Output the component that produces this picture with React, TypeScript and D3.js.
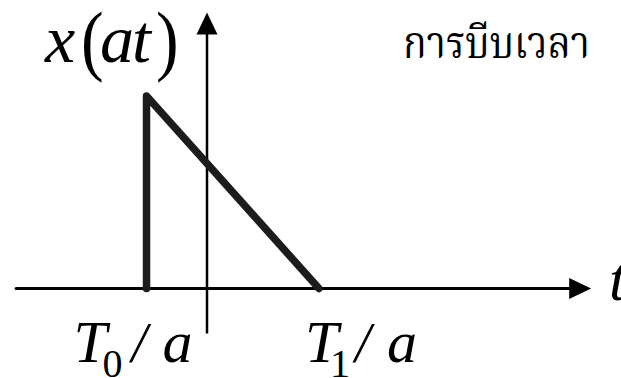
import React from "react";
import * as d3 from "d3";

// Signal x(at): time points (in units of T1/a) and amplitudes
const signalT = [-0.54, -0.54, 1];
const signalX = [0, 1, 0];
// Axis extents (data units)
const tAxis = [-1.705, 3.43];
const xAxis = [-0.234, 1.434];
// Tick labels
const tickTs = [-0.54, 1];
const tickMain = ["T", "T"];
const tickSub = ["0", "1"];
const titleText = "การบีบเวลา";

// label layout (pixel offsets relative to the tick position)
const tickLayout = [
  { dx: -73, sub: 29, slash: 58, a: 89 },
  { dx: -14, sub: 25, slash: 50, a: 82 },
];

const W = 621;
const H = 378;

export default function App() {
  const xs = d3.scaleLinear().domain([0, 1]).range([207, 319]);
  const ys = d3.scaleLinear().domain([0, 1]).range([288.5, 96]);

  const line = d3
    .line<number>()
    .x((_, i) => xs(signalT[i]))
    .y((d) => ys(d));

  const hx0 = xs(tAxis[0]);
  const hx1 = xs(tAxis[1]);
  const vy0 = ys(xAxis[0]);
  const vy1 = ys(xAxis[1]);
  const y0 = ys(0);
  const x0 = xs(0);
  const ah = 22; // arrow length
  const aw = 10.5; // arrow half-width

  const serif = "'Liberation Serif', 'Times New Roman', serif";

  return (
    <svg
      width={W}
      height={H}
      style={{ position: "absolute", left: 0, top: 0, background: "#fff" }}
    >
      <rect width={W} height={H} fill="#fff" />
      {/* horizontal axis */}
      <line x1={hx0} y1={y0} x2={hx1 - ah + 2} y2={y0} stroke="#000" strokeWidth={3} strokeLinecap="round" />
      <path d={`M${hx1},${y0} L${hx1 - ah},${y0 - aw} L${hx1 - ah},${y0 + aw} Z`} fill="#000" />
      {/* vertical axis */}
      <line x1={x0} y1={vy0} x2={x0} y2={vy1 + ah - 2} stroke="#000" strokeWidth={2.5} />
      <path d={`M${x0},${vy1} L${x0 - aw},${vy1 + ah} L${x0 + aw},${vy1 + ah} Z`} fill="#000" />

      {/* signal */}
      <path
        d={line(signalX) || ""}
        fill="none"
        stroke="#1c1c1c"
        strokeWidth={7.5}
        strokeLinejoin="round"
        strokeLinecap="round"
      />

      {/* y label x(at) */}
      <g fontFamily={serif} fill="#000">
        <text x={45} y={62} fontSize={68} fontStyle="italic">x</text>
        <text x={0} y={0} fontSize={68} transform="translate(81,66) scale(1,1.15)">(</text>
        <text x={100} y={62} fontSize={68} fontStyle="italic">a</text>
        <text x={132} y={62} fontSize={68} fontStyle="italic">t</text>
        <text x={0} y={0} fontSize={68} transform="translate(156,66) scale(1,1.15)">)</text>
      </g>

      {/* t label */}
      <text x={609} y={300} fontFamily={serif} fontSize={62} fontStyle="italic">t</text>

      {/* tick labels */}
      {tickTs.map((t, i) => {
        const L = tickLayout[i];
        const base = xs(t) + L.dx;
        return (
          <g key={i} fontFamily={serif} fill="#000">
            <text x={base} y={362} fontSize={60} fontStyle="italic">{tickMain[i]}</text>
            <text x={base + L.sub} y={377} fontSize={40}>{tickSub[i]}</text>
            <text x={base + L.slash} y={362} fontSize={56} fontStyle="italic">/</text>
            <text x={base + L.a} y={362} fontSize={60} fontStyle="italic">a</text>
          </g>
        );
      })}

      {/* Thai title */}
      <text
        x={403}
        y={58}
        fontSize={44}
        fontFamily="'Noto Serif Thai', 'Noto Sans Thai', 'DejaVu Serif', 'Noto Sans', serif"
        textLength={187}
        lengthAdjust="spacingAndGlyphs"
        fill="#000"
      >
        {titleText}
      </text>
    </svg>
  );
}
